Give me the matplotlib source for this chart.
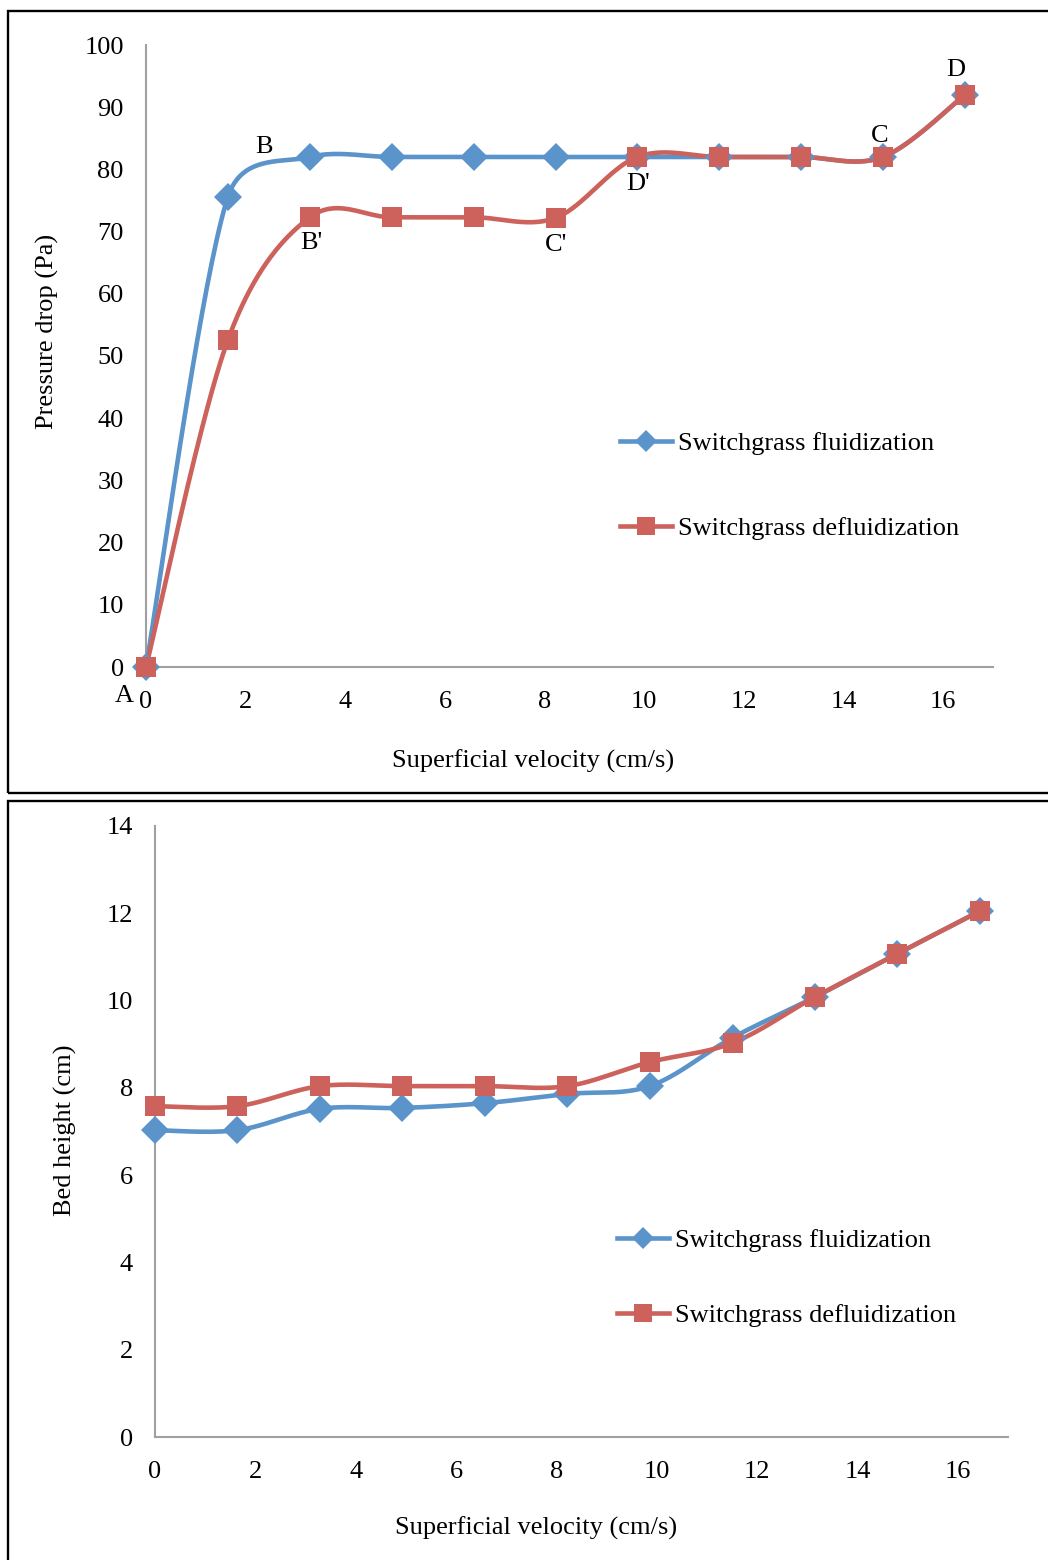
import numpy as np
import matplotlib
matplotlib.use("Agg")
import matplotlib.pyplot as plt
from matplotlib.lines import Line2D
from matplotlib.patches import Rectangle

plt.rcParams['font.family'] = ['Liberation Serif', 'DejaVu Serif']

# ---------------- data ----------------
velocity = [0, 1.64, 3.29, 4.93, 6.58, 8.22, 9.86, 11.51, 13.15, 14.79, 16.44]

dp_fluid = [0, 75.5, 82, 82, 82, 82, 82, 82, 82, 82, 92]
dp_defluid = [0, 52.5, 72.3, 72.3, 72.3, 72.2, 82, 82, 82, 82, 92]

bh_fluid = [7.03, 7.03, 7.52, 7.54, 7.65, 7.86, 8.04, 9.15, 10.08, 11.07, 12.05]
bh_defluid = [7.58, 7.58, 8.04, 8.04, 8.04, 8.04, 8.59, 9.03, 10.08, 11.07, 12.05]

series_names = ["Switchgrass fluidization", "Switchgrass defluidization"]
point_labels = ["A", "B", "B'", "C'", "D'", "C", "D"]
label_pos = [(-0.44, -4.66), (2.37, 83.6), (3.31, 68.2), (8.24, 67.8),
             (9.88, 77.65), (14.72, 85.4), (16.26, 96.0)]

BLUE = '#5B93CB'
RED = '#CC625B'
W, H = 1048, 1560
FS = 19

fig = plt.figure(figsize=(W / 100, H / 100), dpi=100)


def fx(px):
    return px / W


def fy(py):
    return 1 - py / H


# panel borders
fig.patches.append(Rectangle((fx(8), fy(793)), fx(1100 - 8), fy(11) - fy(793),
                             transform=fig.transFigure, fill=False, lw=1.7,
                             ec='black', zorder=0))
fig.patches.append(Rectangle((fx(8), fy(1600)), fx(1100 - 8), fy(801) - fy(1600),
                             transform=fig.transFigure, fill=False, lw=1.7,
                             ec='black', zorder=0))


def excel_smooth(ax, xs, ys, n=40):
    """Excel-like smoothed line computed in display space."""
    pts = ax.transData.transform(np.column_stack([xs, ys]))
    out = [pts[0]]
    m = len(pts)
    for i in range(m - 1):
        p0 = pts[i - 1] if i > 0 else pts[i]
        p1 = pts[i]
        p2 = pts[i + 1]
        p3 = pts[i + 2] if i + 2 < m else pts[i + 1]
        d12 = np.linalg.norm(p2 - p1)
        t1 = (p2 - p0) / 6.0
        t2 = (p3 - p1) / 6.0
        for t in (t1, t2):
            L = np.linalg.norm(t)
            if L > d12 / 2 and L > 0:
                t *= (d12 / 2) / L
        c1 = p1 + t1
        c2 = p2 - t2
        s = np.linspace(0, 1, n)[1:, None]
        seg = ((1 - s) ** 3) * p1 + 3 * ((1 - s) ** 2) * s * c1 + 3 * (1 - s) * s ** 2 * c2 + s ** 3 * p2
        out.extend(seg)
    out = np.array(out)
    return ax.transData.inverted().transform(out)


def setup_axes(ax, ymax, ystep):
    ax.set_xlim(0, 17)
    ax.set_ylim(0, ymax)
    ax.set_xticks(np.arange(0, 17, 2))
    ax.set_yticks(np.arange(0, ymax + 0.1, ystep))
    for s in ['top', 'right']:
        ax.spines[s].set_visible(False)
    for s in ['left', 'bottom']:
        ax.spines[s].set_color('#A0A0A0')
        ax.spines[s].set_linewidth(1.5)
    ax.tick_params(length=0, labelsize=FS)
    ax.tick_params(axis='y', pad=16)
    ax.tick_params(axis='x', pad=17)
    ax.patch.set_alpha(0)


def draw_series(ax, ys, color, marker, ms):
    curve = excel_smooth(ax, velocity, ys)
    ax.plot(curve[:, 0], curve[:, 1], color=color, lw=3.3, solid_capstyle='round', zorder=3,
            clip_on=False)
    ax.plot(velocity, ys, linestyle='none', marker=marker, ms=ms, color=color,
            mec=color, mew=0, zorder=4, clip_on=False)


def add_legend(ax, left_px, top_px, spacing):
    handles = [Line2D([], [], color=BLUE, lw=3.3, marker='D', ms=11, mew=0),
               Line2D([], [], color=RED, lw=3.3, marker='s', ms=12.5, mew=0)]
    ax.legend(handles, series_names, loc='upper left',
              bbox_to_anchor=(fx(left_px), fy(top_px)), bbox_transform=fig.transFigure,
              frameon=False, fontsize=FS, handlelength=1.97, handletextpad=0.23,
              labelspacing=spacing, borderpad=0, borderaxespad=0)


# ---------------- top panel ----------------
ax1 = fig.add_axes([fx(146), fy(667), fx(993) - fx(146), fy(45) - fy(667)])
setup_axes(ax1, 100, 10)
draw_series(ax1, dp_fluid, BLUE, 'D', 13.8)
draw_series(ax1, dp_defluid, RED, 's', 14.8)
for lab, (lx, ly) in zip(point_labels, label_pos):
    ax1.text(lx, ly, lab, fontsize=FS, ha='center', va='center', clip_on=False, zorder=5)
add_legend(ax1, 620, 432, 2.32)
fig.text(fx(47), fy(331), "Pressure drop (Pa)", rotation=90, ha='center', va='center', fontsize=FS)
fig.text(fx(533), fy(761), "Superficial velocity (cm/s)", ha='center', va='center', fontsize=FS)

# ---------------- bottom panel ----------------
ax2 = fig.add_axes([fx(155), fy(1437), fx(1008) - fx(155), fy(826) - fy(1437)])
setup_axes(ax2, 14, 2)
draw_series(ax2, bh_fluid, BLUE, 'D', 13.8)
draw_series(ax2, bh_defluid, RED, 's', 14.8)
add_legend(ax2, 617, 1229, 1.94)
fig.text(fx(65), fy(1130), "Bed height (cm)", rotation=90, ha='center', va='center', fontsize=FS)
fig.text(fx(536), fy(1528), "Superficial velocity (cm/s)", ha='center', va='center', fontsize=FS)

fig.savefig("out.png", dpi=100)
